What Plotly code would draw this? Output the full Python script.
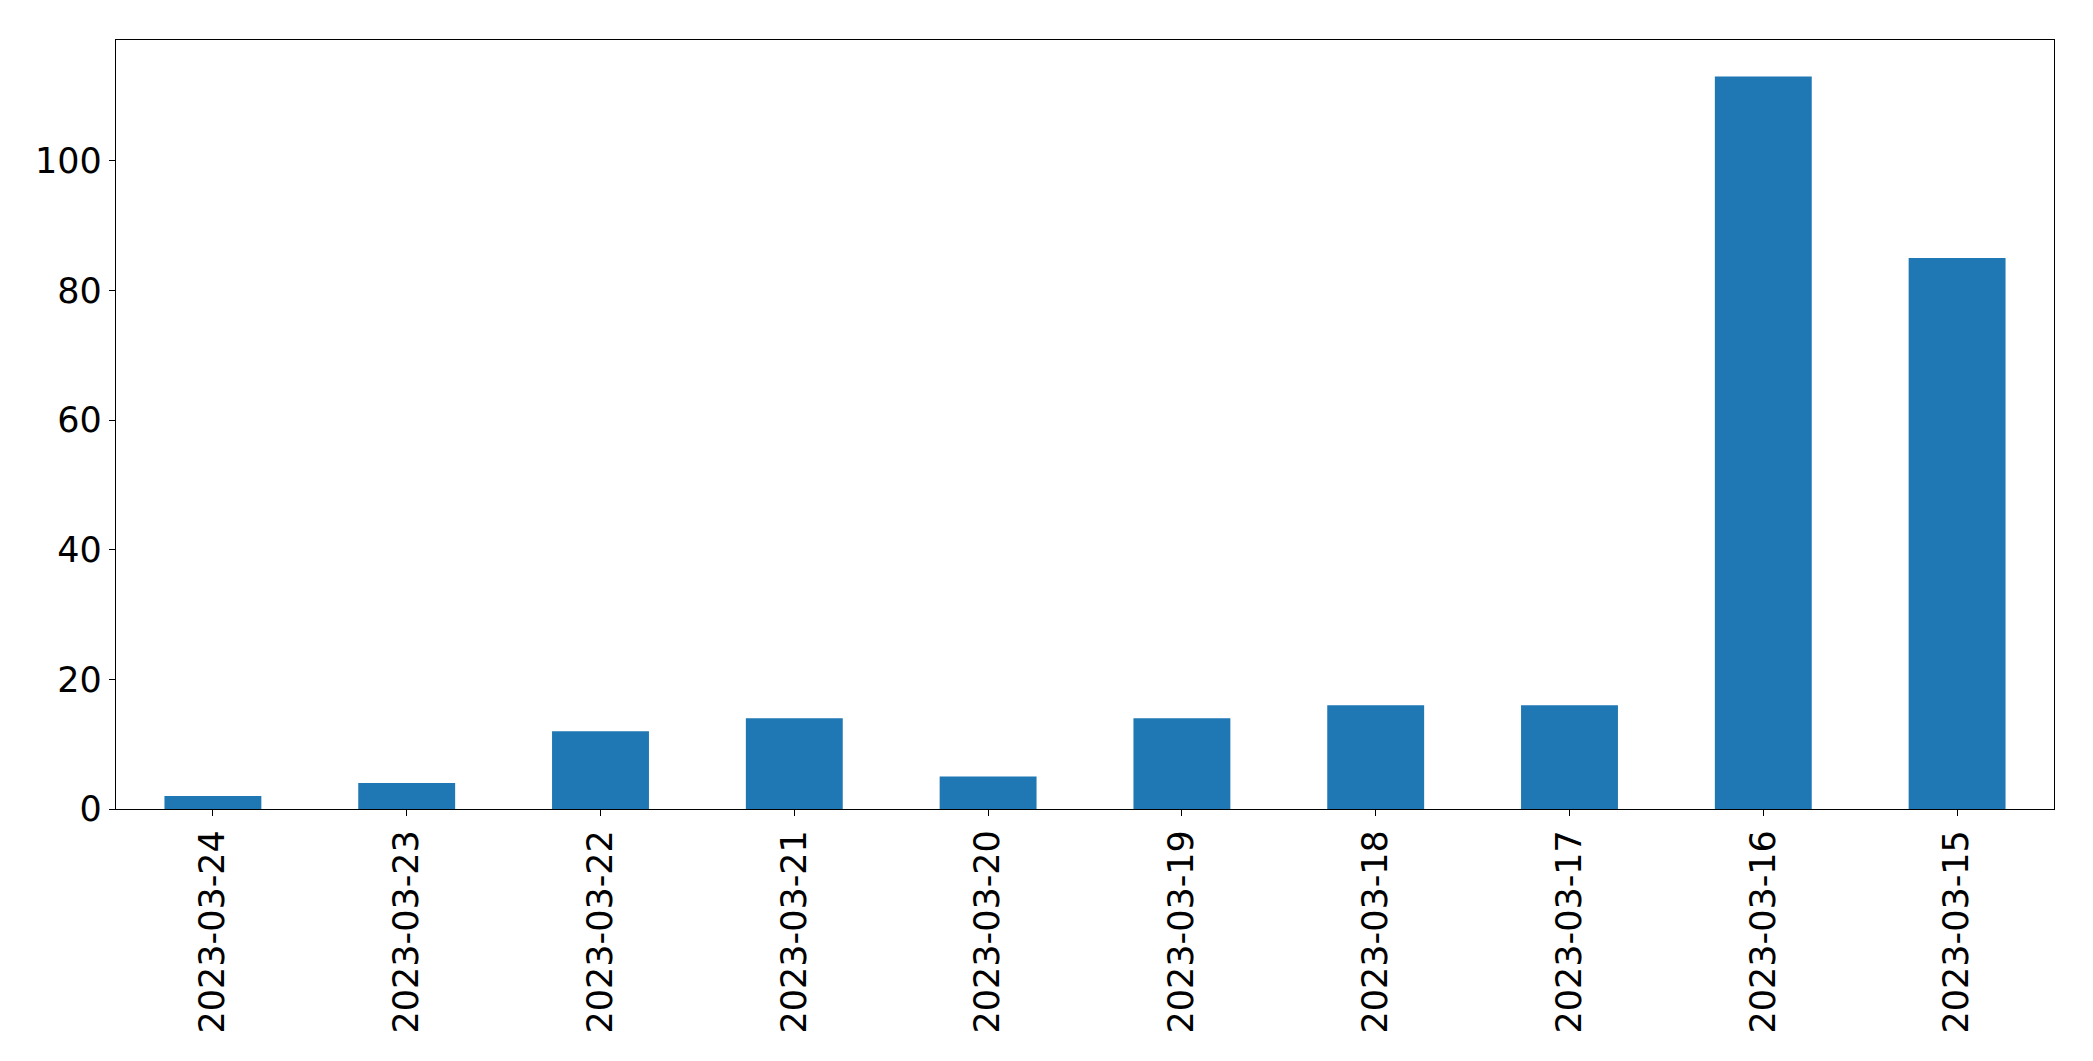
import plotly.graph_objects as go

dates = ["2023-03-24", "2023-03-23", "2023-03-22", "2023-03-21", "2023-03-20",
         "2023-03-19", "2023-03-18", "2023-03-17", "2023-03-16", "2023-03-15"]
counts = [2, 4, 12, 14, 5, 14, 16, 16, 113, 85]
y_ticks = [0, 20, 40, 60, 80, 100]

fig = go.Figure(go.Bar(x=dates, y=counts, marker=dict(color="#1f77b4", line=dict(width=0)), width=0.5))

fig.update_layout(
    width=2085, height=1053,
    margin=dict(l=108, r=39, t=32, b=252),
    plot_bgcolor="white", paper_bgcolor="white",
    font=dict(family="DejaVu Sans", size=35, color="black"),
    showlegend=False,
)
fig.update_xaxes(
    type="category", range=[-0.5, 9.5], tickangle=-90,
    showline=True, mirror=True, linecolor="black", linewidth=1.3,
    ticks="outside", ticklen=6, tickwidth=1.3, tickcolor="black",
    showgrid=False, zeroline=False,
)
fig.update_yaxes(
    range=[0, max(counts) * 1.05], tickvals=y_ticks,
    showline=True, mirror=True, linecolor="black", linewidth=1.3,
    ticks="outside", ticklen=6, tickwidth=1.3, tickcolor="black",
    showgrid=False, zeroline=False,
)

fig.write_html("out.html")
